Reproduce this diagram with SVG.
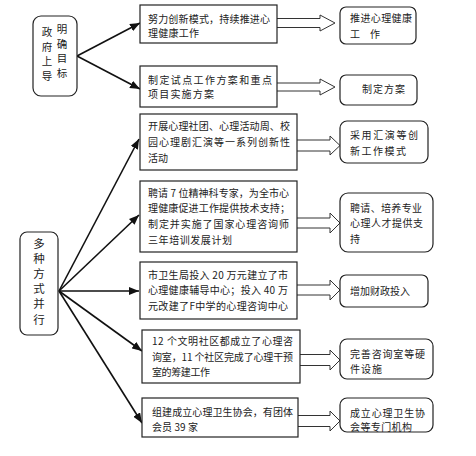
<svg xmlns="http://www.w3.org/2000/svg" width="476" height="456" viewBox="0 0 476 456">
<defs>
<style>
text{font-family:"Noto Sans CJK SC","Noto Sans",sans-serif;fill:#222;font-size:10px}
.box{fill:#fff;stroke:#222;stroke-width:1.2}
.rbox{fill:#fff;stroke:#222;stroke-width:1.2}
.big{font-size:10.5px;text-anchor:middle}
.big2{font-size:11.5px;text-anchor:middle}
.conn{stroke:#111;stroke-width:1.6;fill:none;marker-end:url(#ah)}
.hollow{fill:#fff;stroke:#333;stroke-width:1}
</style>
<marker id="ah" markerUnits="userSpaceOnUse" markerWidth="10" markerHeight="8" viewBox="0 0 10 8" refX="10" refY="4" orient="auto">
<path d="M0,0 L10,4 L0,8 Z" fill="#111"/>
</marker>
</defs>
<rect width="476" height="456" fill="#fff"/>

<g id="connectors">
<line class="conn" x1="77" y1="56" x2="140" y2="23"/>
<line class="conn" x1="77" y1="56" x2="140" y2="89"/>
<line class="conn" x1="59" y1="291" x2="139" y2="139"/>
<line class="conn" x1="59" y1="291" x2="139" y2="215"/>
<line class="conn" x1="59" y1="291" x2="139" y2="291"/>
<line class="conn" x1="59" y1="291" x2="142" y2="351"/>
<line class="conn" x1="59" y1="291" x2="142" y2="423"/>
<path class="hollow" d="M277,18.5 H320 V15 L335,23 L320,31 V27.5 H277"/>
<path class="hollow" d="M277,83 H320 V79 L335,87 L320,95 V91 H277"/>
<path class="hollow" d="M297,140 H330 V136 L340,145.5 L330,155 V151 H297"/>
<path class="hollow" d="M297,218 H330 V213 L340,223 L330,233 V228 H297"/>
<path class="hollow" d="M297,285 H330 V280 L340,290 L330,300 V295 H297"/>
<path class="hollow" d="M300,354.5 H330 V350 L340,360 L330,370 V365.5 H300"/>
<path class="hollow" d="M298,415.5 H330 V411 L340,421 L330,431 V426.5 H298"/>
</g>

<g id="gov">
<rect class="rbox" x="33" y="16" width="44" height="80" rx="8"/>
<text class="big" x="47" y="36">政</text>
<text class="big" x="47" y="50.5">府</text>
<text class="big" x="47" y="65">上</text>
<text class="big" x="47" y="79.5">导</text>
<text class="big" x="62" y="33">明</text>
<text class="big" x="62" y="47.5">确</text>
<text class="big" x="62" y="62">目</text>
<text class="big" x="62" y="76.5">标</text>
</g>

<g id="multi">
<rect class="rbox" x="20" y="232" width="38" height="103" rx="7"/>
<text class="big2" x="39" y="248">多</text>
<text class="big2" x="39" y="263">种</text>
<text class="big2" x="39" y="278">方</text>
<text class="big2" x="39" y="293">式</text>
<text class="big2" x="39" y="308">并</text>
<text class="big2" x="39" y="324">行</text>
</g>

<g id="a1">
<rect class="box" x="140" y="5" width="137" height="38"/>
<text x="148" y="22.5" textLength="122" lengthAdjust="spacing">努力创新模式，持续推进心</text>
<text x="148" y="37" textLength="51" lengthAdjust="spacing">理健康工作</text>
</g>
<g id="a2">
<rect class="box" x="140" y="66" width="137" height="41"/>
<text x="148" y="83.5" textLength="124" lengthAdjust="spacing">制定试点工作方案和重点</text>
<text x="148" y="98" textLength="66" lengthAdjust="spacing">项目实施方案</text>
</g>
<g id="b1">
<rect class="rbox" x="340" y="7" width="76" height="37" rx="6"/>
<text x="350" y="22" textLength="62" lengthAdjust="spacing">推进心理健康</text>
<text x="350" y="37.5" textLength="30" lengthAdjust="spacing">工作</text>
</g>
<g id="b2">
<rect class="rbox" x="340" y="75" width="77" height="30" rx="6"/>
<text x="362" y="93" textLength="43" lengthAdjust="spacing">制定方案</text>
</g>

<g id="c1">
<rect class="box" x="140" y="114" width="157" height="56"/>
<text x="148" y="129.5" textLength="142" lengthAdjust="spacing">开展心理社团、心理活动周、校</text>
<text x="148" y="145.5" textLength="142" lengthAdjust="spacing">园心理剧汇演等一系列创新性</text>
<text x="148" y="161.5" textLength="20" lengthAdjust="spacing">活动</text>
</g>
<g id="c2">
<rect class="box" x="140" y="181" width="157" height="71"/>
<text x="148" y="196.5" textLength="141" lengthAdjust="spacing">聘请 7 位精神科专家，为全市心</text>
<text x="148" y="211.5" textLength="142" lengthAdjust="spacing">理健康促进工作提供技术支持；</text>
<text x="148" y="227.5" textLength="141" lengthAdjust="spacing">制定并实施了国家心理咨询师</text>
<text x="148" y="243.5" textLength="84" lengthAdjust="spacing">三年培训发展计划</text>
</g>
<g id="c3">
<rect class="box" x="140" y="262" width="157" height="57"/>
<text x="148" y="278.5" textLength="140" lengthAdjust="spacing">市卫生局投入 20 万元建立了市</text>
<text x="148" y="293.5" textLength="140" lengthAdjust="spacing">心理健康辅导中心；投入 40 万</text>
<text x="148" y="309.5" textLength="140" lengthAdjust="spacing">元改建了F中学的心理咨询中心</text>
</g>
<g id="c4">
<rect class="box" x="142" y="330" width="158" height="53"/>
<text x="152" y="344.5" textLength="141" lengthAdjust="spacing">12 个文明社区都成立了心理咨</text>
<text x="152" y="360.5" textLength="141" lengthAdjust="spacing">询室，11 个社区完成了心理干预</text>
<text x="152" y="375.5" textLength="58" lengthAdjust="spacing">室的筹建工作</text>
</g>
<g id="c5">
<rect class="box" x="142" y="398" width="156" height="39"/>
<text x="152" y="415.5" textLength="141" lengthAdjust="spacing">组建成立心理卫生协会，有团体</text>
<text x="152" y="430.5" textLength="46" lengthAdjust="spacing">会员 39 家</text>
</g>

<g id="d1">
<rect class="rbox" x="340" y="121" width="88" height="42" rx="7"/>
<text x="350" y="138.5" textLength="68" lengthAdjust="spacing">采用汇演等创</text>
<text x="350" y="154.5" textLength="56" lengthAdjust="spacing">新工作模式</text>
</g>
<g id="d2">
<rect class="rbox" x="340" y="193" width="93" height="59" rx="8"/>
<text x="350" y="211.5" textLength="72" lengthAdjust="spacing">聘请、培养专业</text>
<text x="350" y="226.5" textLength="73" lengthAdjust="spacing">心理人才提供支</text>
<text x="350" y="242.5">持</text>
</g>
<g id="d3">
<rect class="rbox" x="340" y="275" width="88" height="32" rx="6"/>
<text x="350" y="294.5" textLength="60" lengthAdjust="spacing">增加财政投入</text>
</g>
<g id="d4">
<rect class="rbox" x="340" y="339" width="93" height="40" rx="7"/>
<text x="350" y="357.5" textLength="75" lengthAdjust="spacing">完善咨询室等硬</text>
<text x="350" y="372.5" textLength="32" lengthAdjust="spacing">件设施</text>
</g>
<g id="d5">
<rect class="rbox" x="340" y="398" width="93" height="34" rx="7"/>
<text x="350" y="416.5" textLength="75" lengthAdjust="spacing">成立心理卫生协</text>
<text x="350" y="431" textLength="62" lengthAdjust="spacing">会等专门机构</text>
</g>
</svg>
